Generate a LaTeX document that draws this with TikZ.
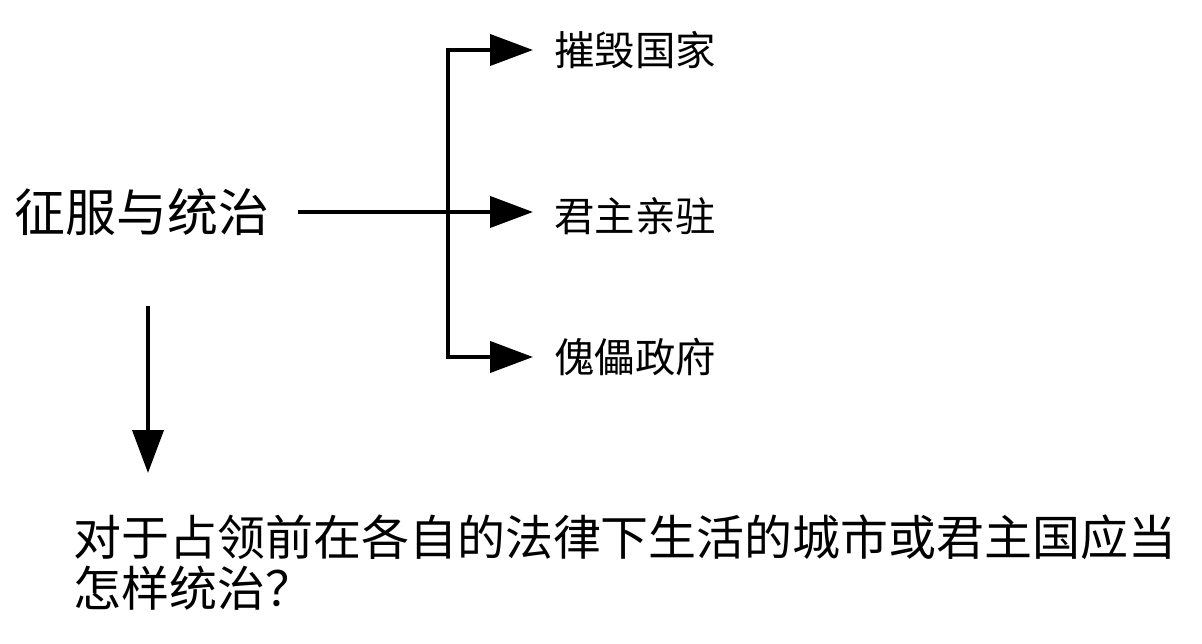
\documentclass[tikz,border=0pt]{standalone}
\usepackage{fontspec}
\setmainfont{Noto Sans CJK SC}
\usetikzlibrary{arrows.meta}

\tikzset{
  line/.style={line width=2.3pt},
  link/.style={line width=2.3pt, -{Triangle[length=0.86cm,width=0.62cm]}},
  branch/.style={anchor=west, inner xsep=12pt, font=\fontsize{23}{27}\selectfont},
}

\begin{document}
\begin{tikzpicture}[x=0.02cm,y=-0.02cm]
  \useasboundingbox (0,0) rectangle (1202,644);
  \node[anchor=west, inner xsep=16pt, font=\fontsize{29}{34}\selectfont] (conquer) at (-14,212) {征服与统治};
  \node[branch] (destroy) at (533,50) {摧毁国家};
  \node[branch] (reside) at (533,216) {君主亲驻};
  \node[branch] (puppet) at (533,357) {傀儡政府};
  \node[anchor=base west, align=left, inner sep=0pt, font=\fontsize{27.3}{28.5}\selectfont] (question) at (73,606)
    {对于占领前在各自的法律下生活的城市或君主国应当\\怎样统治？};
  \coordinate (fork) at (448,212);
  \coordinate (dstart) at (148,306);
  \coordinate (dend) at (148,473);
  \draw[line] (conquer.east) -- (fork);
  \draw[link] (fork) -- (reside.west |- fork);
  \draw[link] (fork) |- (destroy.west);
  \draw[link] (fork) |- (puppet.west);
  \draw[link] (dstart) -- (dend);
\end{tikzpicture}
\end{document}
